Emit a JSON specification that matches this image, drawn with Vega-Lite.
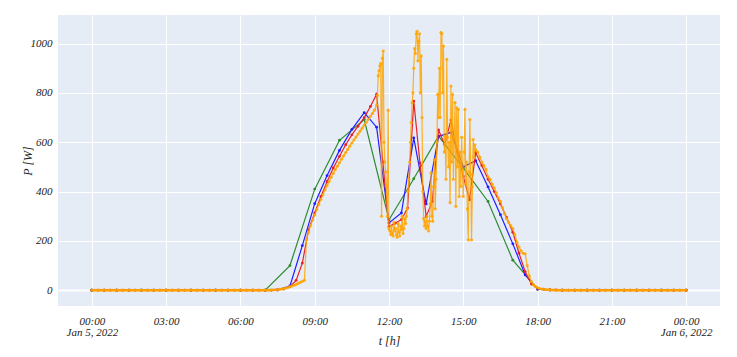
{
  "$schema": "https://vega.github.io/schema/vega-lite/v6.json",
  "width": 662,
  "height": 291,
  "autosize": {"type": "none"},
  "padding": {"left": 58, "top": 15, "right": 17, "bottom": 51},
  "background": "white",
  "config": {
    "view": {"fill": "#E5ECF6", "stroke": null},
    "axis": {
      "labelFont": "'Liberation Serif', 'Times New Roman', 'DejaVu Serif', serif",
      "labelFontStyle": "italic",
      "labelFontSize": 11,
      "labelColor": "#222222",
      "titleFont": "'Liberation Serif', 'Times New Roman', 'DejaVu Serif', serif",
      "titleFontStyle": "italic",
      "titleFontWeight": "normal",
      "titleFontSize": 12,
      "titleColor": "#222222",
      "domain": false,
      "ticks": false,
      "gridColor": "white",
      "gridOpacity": 1
    }
  },
  "datasets": {
    "green": [
      {"t":"2022-01-05T00:00Z","P":0},{"t":"2022-01-05T01:00Z","P":0},{"t":"2022-01-05T02:00Z","P":0},{"t":"2022-01-05T03:00Z","P":0},{"t":"2022-01-05T04:00Z","P":0},{"t":"2022-01-05T05:00Z","P":0},{"t":"2022-01-05T06:00Z","P":0},{"t":"2022-01-05T07:00Z","P":0},
      {"t":"2022-01-05T08:00Z","P":100},{"t":"2022-01-05T09:00Z","P":410},{"t":"2022-01-05T10:00Z","P":608},{"t":"2022-01-05T11:00Z","P":692},{"t":"2022-01-05T12:00Z","P":286},{"t":"2022-01-05T13:00Z","P":452},{"t":"2022-01-05T14:00Z","P":625},{"t":"2022-01-05T15:00Z","P":495},{"t":"2022-01-05T16:00Z","P":360},{"t":"2022-01-05T17:00Z","P":122},{"t":"2022-01-05T18:00Z","P":5},
      {"t":"2022-01-05T19:00Z","P":0},{"t":"2022-01-05T20:00Z","P":0},{"t":"2022-01-05T21:00Z","P":0},{"t":"2022-01-05T22:00Z","P":0},{"t":"2022-01-05T23:00Z","P":0},{"t":"2022-01-06T00:00Z","P":0}
    ],
    "blue": [
      {"t":"2022-01-05T00:00Z","P":0},{"t":"2022-01-05T00:30Z","P":0},{"t":"2022-01-05T01:00Z","P":0},{"t":"2022-01-05T01:30Z","P":0},{"t":"2022-01-05T02:00Z","P":0},{"t":"2022-01-05T02:30Z","P":0},{"t":"2022-01-05T03:00Z","P":0},{"t":"2022-01-05T03:30Z","P":0},{"t":"2022-01-05T04:00Z","P":0},{"t":"2022-01-05T04:30Z","P":0},{"t":"2022-01-05T05:00Z","P":0},{"t":"2022-01-05T05:30Z","P":0},{"t":"2022-01-05T06:00Z","P":0},{"t":"2022-01-05T06:30Z","P":0},{"t":"2022-01-05T07:00Z","P":0},
      {"t":"2022-01-05T07:30Z","P":2},{"t":"2022-01-05T08:00Z","P":17},{"t":"2022-01-05T08:30Z","P":181},{"t":"2022-01-05T09:00Z","P":351},{"t":"2022-01-05T09:30Z","P":465},{"t":"2022-01-05T10:00Z","P":567},{"t":"2022-01-05T10:30Z","P":652},{"t":"2022-01-05T11:00Z","P":720},{"t":"2022-01-05T11:30Z","P":661},{"t":"2022-01-05T12:00Z","P":273},{"t":"2022-01-05T12:30Z","P":313},{"t":"2022-01-05T13:00Z","P":618},{"t":"2022-01-05T13:30Z","P":350},{"t":"2022-01-05T14:00Z","P":624},{"t":"2022-01-05T14:30Z","P":640},{"t":"2022-01-05T15:00Z","P":500},{"t":"2022-01-05T15:30Z","P":525},{"t":"2022-01-05T16:00Z","P":419},{"t":"2022-01-05T16:30Z","P":306},{"t":"2022-01-05T17:00Z","P":188},{"t":"2022-01-05T17:30Z","P":62},{"t":"2022-01-05T18:00Z","P":4},{"t":"2022-01-05T18:30Z","P":0.5},
      {"t":"2022-01-05T19:00Z","P":0},{"t":"2022-01-05T19:30Z","P":0},{"t":"2022-01-05T20:00Z","P":0},{"t":"2022-01-05T20:30Z","P":0},{"t":"2022-01-05T21:00Z","P":0},{"t":"2022-01-05T21:30Z","P":0},{"t":"2022-01-05T22:00Z","P":0},{"t":"2022-01-05T22:30Z","P":0},{"t":"2022-01-05T23:00Z","P":0},{"t":"2022-01-05T23:30Z","P":0},{"t":"2022-01-06T00:00Z","P":0}
    ],
    "red": [
      {"t":"2022-01-05T00:00Z","P":0},{"t":"2022-01-05T00:15Z","P":0},{"t":"2022-01-05T00:30Z","P":0},{"t":"2022-01-05T00:45Z","P":0},{"t":"2022-01-05T01:00Z","P":0},{"t":"2022-01-05T01:15Z","P":0},{"t":"2022-01-05T01:30Z","P":0},{"t":"2022-01-05T01:45Z","P":0},{"t":"2022-01-05T02:00Z","P":0},{"t":"2022-01-05T02:15Z","P":0},{"t":"2022-01-05T02:30Z","P":0},{"t":"2022-01-05T02:45Z","P":0},{"t":"2022-01-05T03:00Z","P":0},{"t":"2022-01-05T03:15Z","P":0},{"t":"2022-01-05T03:30Z","P":0},{"t":"2022-01-05T03:45Z","P":0},{"t":"2022-01-05T04:00Z","P":0},{"t":"2022-01-05T04:15Z","P":0},{"t":"2022-01-05T04:30Z","P":0},{"t":"2022-01-05T04:45Z","P":0},{"t":"2022-01-05T05:00Z","P":0},{"t":"2022-01-05T05:15Z","P":0},{"t":"2022-01-05T05:30Z","P":0},{"t":"2022-01-05T05:45Z","P":0},{"t":"2022-01-05T06:00Z","P":0},{"t":"2022-01-05T06:15Z","P":0},{"t":"2022-01-05T06:30Z","P":0},{"t":"2022-01-05T06:45Z","P":0},{"t":"2022-01-05T07:00Z","P":0},{"t":"2022-01-05T07:15Z","P":0},
      {"t":"2022-01-05T07:30Z","P":1},{"t":"2022-01-05T07:45Z","P":5},{"t":"2022-01-05T08:00Z","P":15},{"t":"2022-01-05T08:15Z","P":40},{"t":"2022-01-05T08:30Z","P":110},{"t":"2022-01-05T08:45Z","P":245},{"t":"2022-01-05T09:00Z","P":313},{"t":"2022-01-05T09:15Z","P":380},{"t":"2022-01-05T09:30Z","P":441},{"t":"2022-01-05T09:45Z","P":496},{"t":"2022-01-05T10:00Z","P":543},{"t":"2022-01-05T10:15Z","P":590},{"t":"2022-01-05T10:30Z","P":630},{"t":"2022-01-05T10:45Z","P":665},{"t":"2022-01-05T11:00Z","P":700},{"t":"2022-01-05T11:15Z","P":745},{"t":"2022-01-05T11:30Z","P":795},{"t":"2022-01-05T11:45Z","P":520},{"t":"2022-01-05T12:00Z","P":258},{"t":"2022-01-05T12:15Z","P":272},{"t":"2022-01-05T12:30Z","P":286},{"t":"2022-01-05T12:45Z","P":333},{"t":"2022-01-05T13:00Z","P":767},{"t":"2022-01-05T13:15Z","P":516},{"t":"2022-01-05T13:30Z","P":299},{"t":"2022-01-05T13:45Z","P":360},{"t":"2022-01-05T14:00Z","P":650},{"t":"2022-01-05T14:15Z","P":590},{"t":"2022-01-05T14:30Z","P":690},{"t":"2022-01-05T14:45Z","P":560},{"t":"2022-01-05T15:00Z","P":462},{"t":"2022-01-05T15:15Z","P":367},{"t":"2022-01-05T15:30Z","P":557},{"t":"2022-01-05T15:45Z","P":505},{"t":"2022-01-05T16:00Z","P":450},{"t":"2022-01-05T16:15Z","P":400},{"t":"2022-01-05T16:30Z","P":350},{"t":"2022-01-05T16:45Z","P":295},{"t":"2022-01-05T17:00Z","P":235},{"t":"2022-01-05T17:15Z","P":150},{"t":"2022-01-05T17:30Z","P":75},{"t":"2022-01-05T17:45Z","P":25},{"t":"2022-01-05T18:00Z","P":8},{"t":"2022-01-05T18:15Z","P":4},{"t":"2022-01-05T18:30Z","P":2},{"t":"2022-01-05T18:45Z","P":1},
      {"t":"2022-01-05T19:00Z","P":0},{"t":"2022-01-05T19:15Z","P":0},{"t":"2022-01-05T19:30Z","P":0},{"t":"2022-01-05T19:45Z","P":0},{"t":"2022-01-05T20:00Z","P":0},{"t":"2022-01-05T20:15Z","P":0},{"t":"2022-01-05T20:30Z","P":0},{"t":"2022-01-05T20:45Z","P":0},{"t":"2022-01-05T21:00Z","P":0},{"t":"2022-01-05T21:15Z","P":0},{"t":"2022-01-05T21:30Z","P":0},{"t":"2022-01-05T21:45Z","P":0},{"t":"2022-01-05T22:00Z","P":0},{"t":"2022-01-05T22:15Z","P":0},{"t":"2022-01-05T22:30Z","P":0},{"t":"2022-01-05T22:45Z","P":0},{"t":"2022-01-05T23:00Z","P":0},{"t":"2022-01-05T23:15Z","P":0},{"t":"2022-01-05T23:30Z","P":0},{"t":"2022-01-05T23:45Z","P":0},{"t":"2022-01-06T00:00Z","P":0}
    ],
    "orange": [
      {"t":"2022-01-05T00:00Z","P":0},{"t":"2022-01-05T00:05Z","P":0},{"t":"2022-01-05T00:10Z","P":0},{"t":"2022-01-05T00:15Z","P":0},{"t":"2022-01-05T00:20Z","P":0},{"t":"2022-01-05T00:25Z","P":0},{"t":"2022-01-05T00:30Z","P":0},{"t":"2022-01-05T00:35Z","P":0},{"t":"2022-01-05T00:40Z","P":0},{"t":"2022-01-05T00:45Z","P":0},{"t":"2022-01-05T00:50Z","P":0},{"t":"2022-01-05T00:55Z","P":0},
      {"t":"2022-01-05T01:00Z","P":0},{"t":"2022-01-05T01:05Z","P":0},{"t":"2022-01-05T01:10Z","P":0},{"t":"2022-01-05T01:15Z","P":0},{"t":"2022-01-05T01:20Z","P":0},{"t":"2022-01-05T01:25Z","P":0},{"t":"2022-01-05T01:30Z","P":0},{"t":"2022-01-05T01:35Z","P":0},{"t":"2022-01-05T01:40Z","P":0},{"t":"2022-01-05T01:45Z","P":0},{"t":"2022-01-05T01:50Z","P":0},{"t":"2022-01-05T01:55Z","P":0},
      {"t":"2022-01-05T02:00Z","P":0},{"t":"2022-01-05T02:05Z","P":0},{"t":"2022-01-05T02:10Z","P":0},{"t":"2022-01-05T02:15Z","P":0},{"t":"2022-01-05T02:20Z","P":0},{"t":"2022-01-05T02:25Z","P":0},{"t":"2022-01-05T02:30Z","P":0},{"t":"2022-01-05T02:35Z","P":0},{"t":"2022-01-05T02:40Z","P":0},{"t":"2022-01-05T02:45Z","P":0},{"t":"2022-01-05T02:50Z","P":0},{"t":"2022-01-05T02:55Z","P":0},
      {"t":"2022-01-05T03:00Z","P":0},{"t":"2022-01-05T03:05Z","P":0},{"t":"2022-01-05T03:10Z","P":0},{"t":"2022-01-05T03:15Z","P":0},{"t":"2022-01-05T03:20Z","P":0},{"t":"2022-01-05T03:25Z","P":0},{"t":"2022-01-05T03:30Z","P":0},{"t":"2022-01-05T03:35Z","P":0},{"t":"2022-01-05T03:40Z","P":0},{"t":"2022-01-05T03:45Z","P":0},{"t":"2022-01-05T03:50Z","P":0},{"t":"2022-01-05T03:55Z","P":0},
      {"t":"2022-01-05T04:00Z","P":0},{"t":"2022-01-05T04:05Z","P":0},{"t":"2022-01-05T04:10Z","P":0},{"t":"2022-01-05T04:15Z","P":0},{"t":"2022-01-05T04:20Z","P":0},{"t":"2022-01-05T04:25Z","P":0},{"t":"2022-01-05T04:30Z","P":0},{"t":"2022-01-05T04:35Z","P":0},{"t":"2022-01-05T04:40Z","P":0},{"t":"2022-01-05T04:45Z","P":0},{"t":"2022-01-05T04:50Z","P":0},{"t":"2022-01-05T04:55Z","P":0},
      {"t":"2022-01-05T05:00Z","P":0},{"t":"2022-01-05T05:05Z","P":0},{"t":"2022-01-05T05:10Z","P":0},{"t":"2022-01-05T05:15Z","P":0},{"t":"2022-01-05T05:20Z","P":0},{"t":"2022-01-05T05:25Z","P":0},{"t":"2022-01-05T05:30Z","P":0},{"t":"2022-01-05T05:35Z","P":0},{"t":"2022-01-05T05:40Z","P":0},{"t":"2022-01-05T05:45Z","P":0},{"t":"2022-01-05T05:50Z","P":0},{"t":"2022-01-05T05:55Z","P":0},
      {"t":"2022-01-05T06:00Z","P":0},{"t":"2022-01-05T06:05Z","P":0},{"t":"2022-01-05T06:10Z","P":0},{"t":"2022-01-05T06:15Z","P":0},{"t":"2022-01-05T06:20Z","P":0},{"t":"2022-01-05T06:25Z","P":0},{"t":"2022-01-05T06:30Z","P":0},{"t":"2022-01-05T06:35Z","P":0},{"t":"2022-01-05T06:40Z","P":0},{"t":"2022-01-05T06:45Z","P":0},{"t":"2022-01-05T06:50Z","P":0},{"t":"2022-01-05T06:55Z","P":0},
      {"t":"2022-01-05T07:00Z","P":0},{"t":"2022-01-05T07:05Z","P":0},{"t":"2022-01-05T07:10Z","P":0.5},{"t":"2022-01-05T07:15Z","P":1},{"t":"2022-01-05T07:20Z","P":1.5},{"t":"2022-01-05T07:25Z","P":2},{"t":"2022-01-05T07:30Z","P":3},{"t":"2022-01-05T07:35Z","P":4},{"t":"2022-01-05T07:40Z","P":5},{"t":"2022-01-05T07:45Z","P":7},{"t":"2022-01-05T07:50Z","P":9},{"t":"2022-01-05T07:55Z","P":11},
      {"t":"2022-01-05T08:00Z","P":14},{"t":"2022-01-05T08:05Z","P":17},{"t":"2022-01-05T08:10Z","P":20},{"t":"2022-01-05T08:15Z","P":24},{"t":"2022-01-05T08:20Z","P":28},{"t":"2022-01-05T08:25Z","P":32},{"t":"2022-01-05T08:30Z","P":36},{"t":"2022-01-05T08:35Z","P":40},{"t":"2022-01-05T08:40Z","P":205},{"t":"2022-01-05T08:45Z","P":235},{"t":"2022-01-05T08:50Z","P":262},{"t":"2022-01-05T08:55Z","P":285},
      {"t":"2022-01-05T09:00Z","P":305},{"t":"2022-01-05T09:05Z","P":327},{"t":"2022-01-05T09:10Z","P":348},{"t":"2022-01-05T09:15Z","P":368},{"t":"2022-01-05T09:20Z","P":388},{"t":"2022-01-05T09:25Z","P":407},{"t":"2022-01-05T09:30Z","P":425},{"t":"2022-01-05T09:35Z","P":442},{"t":"2022-01-05T09:40Z","P":458},{"t":"2022-01-05T09:45Z","P":474},{"t":"2022-01-05T09:50Z","P":489},{"t":"2022-01-05T09:55Z","P":503},
      {"t":"2022-01-05T10:00Z","P":517},{"t":"2022-01-05T10:05Z","P":531},{"t":"2022-01-05T10:10Z","P":545},{"t":"2022-01-05T10:15Z","P":558},{"t":"2022-01-05T10:20Z","P":571},{"t":"2022-01-05T10:25Z","P":584},{"t":"2022-01-05T10:30Z","P":597},{"t":"2022-01-05T10:35Z","P":609},{"t":"2022-01-05T10:40Z","P":621},{"t":"2022-01-05T10:45Z","P":633},{"t":"2022-01-05T10:50Z","P":645},{"t":"2022-01-05T10:55Z","P":657},
      {"t":"2022-01-05T11:00Z","P":669},{"t":"2022-01-05T11:05Z","P":681},{"t":"2022-01-05T11:10Z","P":693},{"t":"2022-01-05T11:15Z","P":705},{"t":"2022-01-05T11:20Z","P":717},{"t":"2022-01-05T11:25Z","P":730},
      {"t":"2022-01-05T11:30Z","P":750},{"t":"2022-01-05T11:32Z","P":790},{"t":"2022-01-05T11:34Z","P":870},{"t":"2022-01-05T11:36Z","P":890},{"t":"2022-01-05T11:38Z","P":910},{"t":"2022-01-05T11:40Z","P":920},{"t":"2022-01-05T11:42Z","P":300},{"t":"2022-01-05T11:44Z","P":940},{"t":"2022-01-05T11:46Z","P":970},{"t":"2022-01-05T11:48Z","P":600},{"t":"2022-01-05T11:50Z","P":520},{"t":"2022-01-05T11:52Z","P":480},{"t":"2022-01-05T11:54Z","P":420},{"t":"2022-01-05T11:56Z","P":300},{"t":"2022-01-05T11:58Z","P":730},
      {"t":"2022-01-05T12:00Z","P":250},{"t":"2022-01-05T12:02Z","P":240},{"t":"2022-01-05T12:04Z","P":225},{"t":"2022-01-05T12:06Z","P":260},{"t":"2022-01-05T12:08Z","P":230},{"t":"2022-01-05T12:10Z","P":220},{"t":"2022-01-05T12:12Z","P":275},{"t":"2022-01-05T12:14Z","P":240},{"t":"2022-01-05T12:16Z","P":250},{"t":"2022-01-05T12:18Z","P":225},{"t":"2022-01-05T12:20Z","P":215},{"t":"2022-01-05T12:22Z","P":270},{"t":"2022-01-05T12:24Z","P":235},{"t":"2022-01-05T12:26Z","P":220},{"t":"2022-01-05T12:28Z","P":260},{"t":"2022-01-05T12:30Z","P":245},{"t":"2022-01-05T12:32Z","P":300},{"t":"2022-01-05T12:34Z","P":230},{"t":"2022-01-05T12:36Z","P":250},{"t":"2022-01-05T12:38Z","P":290},
      {"t":"2022-01-05T12:40Z","P":270},{"t":"2022-01-05T12:42Z","P":300},{"t":"2022-01-05T12:44Z","P":330},{"t":"2022-01-05T12:46Z","P":400},{"t":"2022-01-05T12:48Z","P":450},{"t":"2022-01-05T12:50Z","P":520},{"t":"2022-01-05T12:52Z","P":600},{"t":"2022-01-05T12:54Z","P":680},{"t":"2022-01-05T12:56Z","P":760},{"t":"2022-01-05T12:58Z","P":800},{"t":"2022-01-05T13:00Z","P":900},{"t":"2022-01-05T13:02Z","P":980},{"t":"2022-01-05T13:04Z","P":960},{"t":"2022-01-05T13:06Z","P":1040},{"t":"2022-01-05T13:08Z","P":1050},{"t":"2022-01-05T13:10Z","P":930},{"t":"2022-01-05T13:12Z","P":1010},{"t":"2022-01-05T13:14Z","P":1040},{"t":"2022-01-05T13:16Z","P":800},{"t":"2022-01-05T13:18Z","P":950},{"t":"2022-01-05T13:20Z","P":700},{"t":"2022-01-05T13:22Z","P":400},{"t":"2022-01-05T13:24Z","P":290},
      {"t":"2022-01-05T13:26Z","P":260},{"t":"2022-01-05T13:28Z","P":280},{"t":"2022-01-05T13:30Z","P":250},{"t":"2022-01-05T13:32Z","P":300},{"t":"2022-01-05T13:34Z","P":260},{"t":"2022-01-05T13:36Z","P":240},{"t":"2022-01-05T13:38Z","P":280},{"t":"2022-01-05T13:40Z","P":350},{"t":"2022-01-05T13:42Z","P":476},{"t":"2022-01-05T13:44Z","P":300},{"t":"2022-01-05T13:46Z","P":280},{"t":"2022-01-05T13:48Z","P":420},{"t":"2022-01-05T13:50Z","P":530},{"t":"2022-01-05T13:52Z","P":330},{"t":"2022-01-05T13:54Z","P":450},{"t":"2022-01-05T13:56Z","P":600},{"t":"2022-01-05T13:58Z","P":794},
      {"t":"2022-01-05T14:00Z","P":700},{"t":"2022-01-05T14:02Z","P":900},{"t":"2022-01-05T14:04Z","P":700},{"t":"2022-01-05T14:06Z","P":1045},{"t":"2022-01-05T14:08Z","P":1040},{"t":"2022-01-05T14:10Z","P":800},{"t":"2022-01-05T14:12Z","P":990},{"t":"2022-01-05T14:14Z","P":560},{"t":"2022-01-05T14:16Z","P":624},{"t":"2022-01-05T14:18Z","P":450},{"t":"2022-01-05T14:20Z","P":936},{"t":"2022-01-05T14:22Z","P":620},{"t":"2022-01-05T14:24Z","P":500},{"t":"2022-01-05T14:26Z","P":600},{"t":"2022-01-05T14:28Z","P":355},{"t":"2022-01-05T14:30Z","P":828},{"t":"2022-01-05T14:32Z","P":520},{"t":"2022-01-05T14:34Z","P":794},{"t":"2022-01-05T14:36Z","P":450},{"t":"2022-01-05T14:38Z","P":620},{"t":"2022-01-05T14:40Z","P":761},{"t":"2022-01-05T14:42Z","P":340},{"t":"2022-01-05T14:44Z","P":740},{"t":"2022-01-05T14:46Z","P":500},{"t":"2022-01-05T14:48Z","P":733},{"t":"2022-01-05T14:50Z","P":380},{"t":"2022-01-05T14:52Z","P":560},{"t":"2022-01-05T14:54Z","P":421},{"t":"2022-01-05T14:56Z","P":620},{"t":"2022-01-05T14:58Z","P":480},
      {"t":"2022-01-05T15:00Z","P":380},{"t":"2022-01-05T15:02Z","P":560},{"t":"2022-01-05T15:04Z","P":733},{"t":"2022-01-05T15:06Z","P":430},{"t":"2022-01-05T15:08Z","P":520},{"t":"2022-01-05T15:10Z","P":330},{"t":"2022-01-05T15:12Z","P":204},{"t":"2022-01-05T15:14Z","P":480},{"t":"2022-01-05T15:16Z","P":692},{"t":"2022-01-05T15:18Z","P":470},{"t":"2022-01-05T15:20Z","P":204},{"t":"2022-01-05T15:22Z","P":420},{"t":"2022-01-05T15:24Z","P":611},{"t":"2022-01-05T15:26Z","P":540},{"t":"2022-01-05T15:28Z","P":590},{"t":"2022-01-05T15:30Z","P":570},
      {"t":"2022-01-05T15:35Z","P":560},{"t":"2022-01-05T15:40Z","P":540},{"t":"2022-01-05T15:45Z","P":520},{"t":"2022-01-05T15:50Z","P":505},{"t":"2022-01-05T15:55Z","P":490},
      {"t":"2022-01-05T16:00Z","P":460},{"t":"2022-01-05T16:05Z","P":450},{"t":"2022-01-05T16:10Z","P":430},{"t":"2022-01-05T16:15Z","P":415},{"t":"2022-01-05T16:20Z","P":395},{"t":"2022-01-05T16:25Z","P":375},{"t":"2022-01-05T16:30Z","P":360},{"t":"2022-01-05T16:35Z","P":335},{"t":"2022-01-05T16:40Z","P":310},{"t":"2022-01-05T16:45Z","P":290},{"t":"2022-01-05T16:50Z","P":275},{"t":"2022-01-05T16:55Z","P":262},
      {"t":"2022-01-05T17:00Z","P":250},{"t":"2022-01-05T17:05Z","P":225},{"t":"2022-01-05T17:10Z","P":195},{"t":"2022-01-05T17:15Z","P":175},{"t":"2022-01-05T17:20Z","P":160},{"t":"2022-01-05T17:25Z","P":150},{"t":"2022-01-05T17:30Z","P":148},{"t":"2022-01-05T17:35Z","P":100},{"t":"2022-01-05T17:40Z","P":58},{"t":"2022-01-05T17:45Z","P":35},{"t":"2022-01-05T17:50Z","P":22},{"t":"2022-01-05T17:55Z","P":15},
      {"t":"2022-01-05T18:00Z","P":10},{"t":"2022-01-05T18:05Z","P":7},{"t":"2022-01-05T18:10Z","P":5},{"t":"2022-01-05T18:15Z","P":4},{"t":"2022-01-05T18:20Z","P":3},{"t":"2022-01-05T18:25Z","P":2},{"t":"2022-01-05T18:30Z","P":1.5},{"t":"2022-01-05T18:35Z","P":1},{"t":"2022-01-05T18:40Z","P":0.5},{"t":"2022-01-05T18:45Z","P":0},{"t":"2022-01-05T18:50Z","P":0},{"t":"2022-01-05T18:55Z","P":0},
      {"t":"2022-01-05T19:00Z","P":0},{"t":"2022-01-05T19:05Z","P":0},{"t":"2022-01-05T19:10Z","P":0},{"t":"2022-01-05T19:15Z","P":0},{"t":"2022-01-05T19:20Z","P":0},{"t":"2022-01-05T19:25Z","P":0},{"t":"2022-01-05T19:30Z","P":0},{"t":"2022-01-05T19:35Z","P":0},{"t":"2022-01-05T19:40Z","P":0},{"t":"2022-01-05T19:45Z","P":0},{"t":"2022-01-05T19:50Z","P":0},{"t":"2022-01-05T19:55Z","P":0},
      {"t":"2022-01-05T20:00Z","P":0},{"t":"2022-01-05T20:05Z","P":0},{"t":"2022-01-05T20:10Z","P":0},{"t":"2022-01-05T20:15Z","P":0},{"t":"2022-01-05T20:20Z","P":0},{"t":"2022-01-05T20:25Z","P":0},{"t":"2022-01-05T20:30Z","P":0},{"t":"2022-01-05T20:35Z","P":0},{"t":"2022-01-05T20:40Z","P":0},{"t":"2022-01-05T20:45Z","P":0},{"t":"2022-01-05T20:50Z","P":0},{"t":"2022-01-05T20:55Z","P":0},
      {"t":"2022-01-05T21:00Z","P":0},{"t":"2022-01-05T21:05Z","P":0},{"t":"2022-01-05T21:10Z","P":0},{"t":"2022-01-05T21:15Z","P":0},{"t":"2022-01-05T21:20Z","P":0},{"t":"2022-01-05T21:25Z","P":0},{"t":"2022-01-05T21:30Z","P":0},{"t":"2022-01-05T21:35Z","P":0},{"t":"2022-01-05T21:40Z","P":0},{"t":"2022-01-05T21:45Z","P":0},{"t":"2022-01-05T21:50Z","P":0},{"t":"2022-01-05T21:55Z","P":0},
      {"t":"2022-01-05T22:00Z","P":0},{"t":"2022-01-05T22:05Z","P":0},{"t":"2022-01-05T22:10Z","P":0},{"t":"2022-01-05T22:15Z","P":0},{"t":"2022-01-05T22:20Z","P":0},{"t":"2022-01-05T22:25Z","P":0},{"t":"2022-01-05T22:30Z","P":0},{"t":"2022-01-05T22:35Z","P":0},{"t":"2022-01-05T22:40Z","P":0},{"t":"2022-01-05T22:45Z","P":0},{"t":"2022-01-05T22:50Z","P":0},{"t":"2022-01-05T22:55Z","P":0},
      {"t":"2022-01-05T23:00Z","P":0},{"t":"2022-01-05T23:05Z","P":0},{"t":"2022-01-05T23:10Z","P":0},{"t":"2022-01-05T23:15Z","P":0},{"t":"2022-01-05T23:20Z","P":0},{"t":"2022-01-05T23:25Z","P":0},{"t":"2022-01-05T23:30Z","P":0},{"t":"2022-01-05T23:35Z","P":0},{"t":"2022-01-05T23:40Z","P":0},{"t":"2022-01-05T23:45Z","P":0},{"t":"2022-01-05T23:50Z","P":0},{"t":"2022-01-05T23:55Z","P":0},
      {"t":"2022-01-06T00:00Z","P":0}
    ]
  },
  "encoding": {
    "x": {
      "field": "t",
      "type": "temporal",
      "scale": {
        "type": "utc",
        "domain": [
          {"year": 2022, "month": 1, "date": 4, "hours": 22, "minutes": 38, "utc": true},
          {"year": 2022, "month": 1, "date": 6, "hours": 1, "minutes": 22, "utc": true}
        ]
      },
      "axis": {
        "title": "t [h]",
        "values": [
          {"year": 2022, "month": 1, "date": 5, "hours": 0, "utc": true},
          {"year": 2022, "month": 1, "date": 5, "hours": 3, "utc": true},
          {"year": 2022, "month": 1, "date": 5, "hours": 6, "utc": true},
          {"year": 2022, "month": 1, "date": 5, "hours": 9, "utc": true},
          {"year": 2022, "month": 1, "date": 5, "hours": 12, "utc": true},
          {"year": 2022, "month": 1, "date": 5, "hours": 15, "utc": true},
          {"year": 2022, "month": 1, "date": 5, "hours": 18, "utc": true},
          {"year": 2022, "month": 1, "date": 5, "hours": 21, "utc": true},
          {"year": 2022, "month": 1, "date": 6, "hours": 0, "utc": true}
        ],
        "labelExpr": "utchours(datum.value) == 0 ? [utcFormat(datum.value, '%H:%M'), utcFormat(datum.value, '%b %-d, %Y')] : utcFormat(datum.value, '%H:%M')",
        "labelPadding": 9,
        "labelLineHeight": 11,
        "labelFlush": false,
        "labelOverlap": false,
        "titleY": 34,
        "titleBaseline": "middle",
        "grid": true
      }
    },
    "y": {
      "field": "P",
      "type": "quantitative",
      "scale": {"domain": [-64, 1116], "nice": false, "zero": false},
      "axis": {
        "title": "P [W]",
        "format": "d",
        "values": [0, 200, 400, 600, 800, 1000],
        "labelPadding": 6,
        "titleX": -31,
        "titleBaseline": "middle",
        "grid": true,
        "gridWidth": {"condition": {"test": "datum.value === 0", "value": 2}, "value": 1}
      }
    }
  },
  "layer": [
    {"data": {"name": "green"}, "mark": {"type": "line", "color": "#2e8b2e", "strokeWidth": 1.2, "point": {"filled": true, "size": 8, "color": "#2e8b2e"}}},
    {"data": {"name": "blue"}, "mark": {"type": "line", "color": "#1f1fff", "strokeWidth": 1.2, "point": {"filled": true, "size": 8, "color": "#1f1fff"}}},
    {"data": {"name": "red"}, "mark": {"type": "line", "color": "#e8202a", "strokeWidth": 1.2, "point": {"filled": true, "size": 8, "color": "#e8202a"}}},
    {"data": {"name": "orange"}, "mark": {"type": "line", "color": "#FFA500", "strokeWidth": 1.2, "opacity": 0.85, "point": {"filled": true, "size": 10, "color": "#FFA500", "opacity": 0.85}}}
  ]
}
